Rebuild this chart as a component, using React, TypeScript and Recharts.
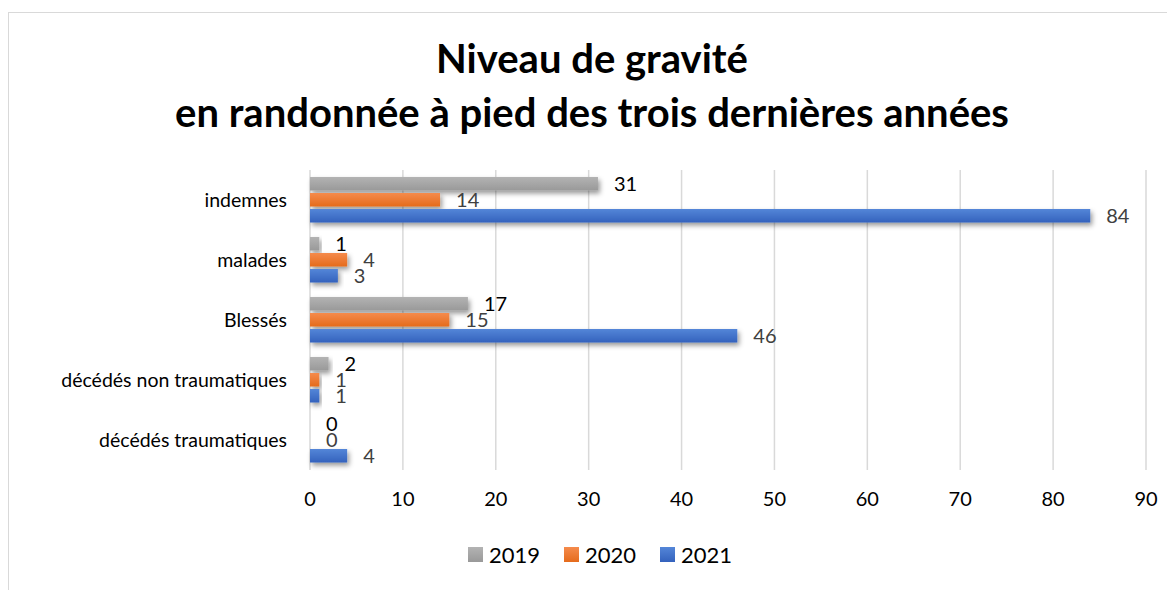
import { BarChart, Bar, XAxis, YAxis, CartesianGrid, LabelList } from 'recharts'

const categories = ['indemnes', 'malades', 'Blessés', 'décédés non traumatiques', 'décédés traumatiques']
const values2019 = [31, 1, 17, 2, 0]
const values2020 = [14, 4, 15, 1, 0]
const values2021 = [84, 3, 46, 1, 4]
const xTicks = [0, 10, 20, 30, 40, 50, 60, 70, 80, 90]
const seriesNames = ['2019', '2020', '2021']

const FONT = 'Lato, "Open Sans", sans-serif'

const chartData = categories.map((name, i) => ({
  name,
  y2019: values2019[i],
  y2020: values2020[i],
  y2021: values2021[i],
}))

const seriesStyle = [
  { key: 'y2019', grad: 'gGray', top: '#b3b3b3', bottom: '#999999', label: '#000000' },
  { key: 'y2020', grad: 'gOrange', top: '#f58b4c', bottom: '#e56b1c', label: '#404040' },
  { key: 'y2021', grad: 'gBlue', top: '#5486d8', bottom: '#3462bd', label: '#404040' },
]

const BarShape = (props: any) => {
  const { x, y, width, height, fill } = props
  if (!width || width <= 0) return <g />
  return <rect x={x} y={y} width={width} height={height} fill={fill} filter="url(#barShadow)" />
}

// legend drawn by hand so it doesn't eat plot height
const ChartLegend = () => (
  <div
    style={{
      position: 'absolute',
      left: 459,
      top: 528,
      display: 'flex',
      alignItems: 'center',
      fontFamily: FONT,
      fontSize: 22,
      color: '#000',
    }}
  >
    {seriesNames.map((n, i) => (
      <div key={n} style={{ display: 'flex', alignItems: 'center', width: 96 }}>
        <span
          style={{
            width: 15,
            height: 15,
            marginRight: 6,
            background: `linear-gradient(${seriesStyle[i].top}, ${seriesStyle[i].bottom})`,
          }}
        />
        <span>{n}</span>
      </div>
    ))}
  </div>
)

export default function App() {
  return (
    <div
      style={{
        position: 'relative',
        width: 1167,
        height: 578,
        marginTop: 4,
        borderTop: '1px solid #d9d9d9',
        borderLeft: '1px solid #d9d9d9',
        overflow: 'hidden',
        background: '#fff',
      }}
    >
      <svg width={1166} height={140} style={{ position: 'absolute', left: 0, top: 0 }}>
        <text x={583} y={60} textAnchor="middle" fontFamily={FONT} fontWeight={700} fontSize={40} fill="#000">
          Niveau de gravité
        </text>
        <text x={583} y={114} textAnchor="middle" fontFamily={FONT} fontWeight={700} fontSize={40} fill="#000">
          en randonnée à pied des trois dernières années
        </text>
      </svg>
      <div style={{ position: 'absolute', left: 0, top: 0 }}>
        <BarChart
          width={1166}
          height={577}
          data={chartData}
          layout="vertical"
          margin={{ top: 157, right: 29, bottom: 80, left: 1 }}
          barSize={13.5}
          barGap={2.5}
        >
          <defs>
            {seriesStyle.map(s => (
              <linearGradient key={s.grad} id={s.grad} x1="0" y1="0" x2="0" y2="1">
                <stop offset="0%" stopColor={s.top} />
                <stop offset="100%" stopColor={s.bottom} />
              </linearGradient>
            ))}
            <filter id="barShadow" x="-10%" y="-50%" width="130%" height="250%">
              <feDropShadow dx="2" dy="3" stdDeviation="2.5" floodColor="#000" floodOpacity="0.4" />
            </filter>
          </defs>
          <CartesianGrid vertical horizontal={false} stroke="#d9d9d9" strokeWidth={1.5} />
          <XAxis
            type="number"
            domain={[0, 90]}
            ticks={xTicks}
            axisLine={false}
            tickLine={false}
            tickSize={0}
            tickMargin={22}
            height={40}
            tick={{ fill: '#000', fontSize: 20, fontFamily: FONT }}
          />
          <YAxis
            type="category"
            dataKey="name"
            width={300}
            axisLine={false}
            tickLine={false}
            tickSize={0}
            tickMargin={23}
            tick={{ fill: '#000', fontSize: 19.5, fontFamily: FONT }}
          />
          {seriesStyle.map((s, i) => (
            <Bar
              key={s.key}
              dataKey={s.key}
              name={seriesNames[i]}
              fill={`url(#${s.grad})`}
              shape={<BarShape />}
              isAnimationActive={false}
            >
              <LabelList dataKey={s.key} position="right" offset={16} fill={s.label} fontSize={20} fontFamily={FONT} />
            </Bar>
          ))}
        </BarChart>
      </div>
      <ChartLegend />
    </div>
  )
}
